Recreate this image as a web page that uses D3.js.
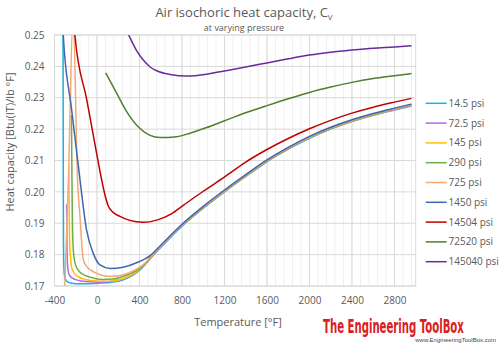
<!DOCTYPE html>
<html><head><meta charset="utf-8">
<script src="https://cdn.jsdelivr.net/npm/d3@7/dist/d3.min.js"></script>
<style>body{margin:0;background:#fff}svg{display:block}text{font-family:"Open Sans",sans-serif}</style>
</head><body>
<svg id="c" width="500" height="346"></svg>
<script>
const seriesNames = ["14.5 psi","72.5 psi","145 psi","290 psi","725 psi","1450 psi","14504 psi","72520 psi","145040 psi"];
const seriesColors = ["#1CB0E8","#B368F0","#FFC000","#6FAE45","#F4A876","#3D67B5","#C00000","#4E7F2E","#6A2A9C"];
const xTicks = [-400,0,400,800,1200,1600,2000,2400,2800];
const yTicks = [0.17,0.18,0.19,0.20,0.21,0.22,0.23,0.24,0.25];

// temperatures [°F] and heat capacities [Btu(IT)/lb °F]
const t145 = [-320,-317,-315,-311,-305,-295,-280,-240,-160,-40,80,185,300,400,500,600,800,1000,1200,1400,1600,1800,2000,2200,2400,2600,2800,2960];
const cp145 = [0.262,0.200,0.182,0.1755,0.1732,0.1720,0.1714,0.1709,0.1707,0.1708,0.1710,0.1714,0.1728,0.1750,0.1787,0.1823,0.1891,0.1948,0.2000,0.2049,0.2096,0.2136,0.2171,0.2200,0.2224,0.2244,0.2261,0.2274];

const t725 = [-286,-283,-279,-270,-250,-207,-129,-40,28,120,200,300,400,500,600,800,1000,1200,1400,1600,1800,2000,2200,2400,2600,2800,2960];
const cp725 = [0.196,0.185,0.178,0.1745,0.1730,0.1721,0.1715,0.1713,0.1712,0.1714,0.1718,0.1729,0.1751,0.1788,0.1824,0.1892,0.1949,0.2001,0.2050,0.2097,0.2137,0.2172,0.2201,0.2225,0.2245,0.2262,0.2275];

const t1450 = [-265,-262,-258,-250,-235,-191,-97,0,59,150,250,350,400,500,600,800,1000,1200,1400,1600,1800,2000,2200,2400,2600,2800,2960];
const cp1450 = [0.208,0.195,0.185,0.179,0.1755,0.1732,0.1720,0.1716,0.1715,0.1716,0.1724,0.1740,0.1752,0.1789,0.1825,0.1893,0.1950,0.2002,0.2051,0.2098,0.2138,0.2173,0.2202,0.2226,0.2246,0.2263,0.2276];

const t2900 = [-240,-236,-231,-222,-200,-160,-100,-30,60,150,250,350,450,500,600,800,1000,1200,1400,1600,1800,2000,2200,2400,2600,2800,2960];
const cp2900 = [0.2245,0.205,0.190,0.181,0.1765,0.1744,0.1732,0.1725,0.1721,0.1722,0.1731,0.1745,0.1768,0.1790,0.1826,0.1894,0.1951,0.2003,0.2052,0.2099,0.2139,0.2174,0.2203,0.2227,0.2247,0.2264,0.2277];

const t7250 = [-305,-270,-225,-182,-160,-129,-100,-66,0,59,150,250,350,450,500,600,800,1000,1200,1400,1600,1800,2000,2200,2400,2600,2800,2960];
const cp7250 = [0.1685,0.2028,0.2560,0.2028,0.1920,0.1785,0.1763,0.1752,0.1740,0.1733,0.1731,0.1736,0.1750,0.1772,0.1791,0.1827,0.1895,0.1952,0.2004,0.2053,0.2100,0.2140,0.2175,0.2204,0.2228,0.2248,0.2265,0.2278];

const t14500 = [-325,-317,-240,-160,-98,-35,28,122,247,373,500,600,800,1000,1200,1400,1600,1800,2000,2200,2400,2600,2800,2960];
const cp14500 = [0.2555,0.2496,0.2266,0.2038,0.1878,0.1804,0.1767,0.1756,0.1760,0.1774,0.1797,0.1830,0.1897,0.1954,0.2006,0.2055,0.2102,0.2142,0.2177,0.2206,0.2230,0.2250,0.2267,0.2280];

const t145k = [-215,-207,-97,-3,40,75,106,150,216,300,436,562,700,812,1000,1195,1400,1600,1800,2000,2200,2400,2600,2800,2960];
const cp145k = [0.2535,0.2496,0.2295,0.2122,0.2045,0.1990,0.1955,0.1935,0.1922,0.1910,0.1903,0.1910,0.1930,0.1957,0.2002,0.2046,0.2095,0.2135,0.2170,0.2201,0.2228,0.2251,0.2270,0.2286,0.2298];

const t725k = [82,185,279,405,499,593,750,875,1032,1195,1400,1600,1800,2000,2200,2400,2600,2800,2960];
const cp725k = [0.2379,0.2315,0.2256,0.2202,0.2180,0.2173,0.2176,0.2187,0.2205,0.2226,0.2252,0.2275,0.2297,0.2317,0.2334,0.2349,0.2361,0.2370,0.2377];

const t1450k = [250,304,370,436,500,562,690,844,1032,1160,1400,1600,1800,2000,2200,2400,2600,2800,2960];
const cp1450k = [0.2535,0.2496,0.2452,0.2420,0.2398,0.2386,0.2374,0.2369,0.2375,0.2383,0.2398,0.2411,0.2424,0.2436,0.2445,0.2452,0.2458,0.2462,0.2466];

const temps = [t145,t725,t1450,t2900,t7250,t14500,t145k,t725k,t1450k];
const cps = [cp145,cp725,cp1450,cp2900,cp7250,cp14500,cp145k,cp725k,cp1450k];

const svg = d3.select("#c");
const L=54.5,R=415.7,T=35,B=286;
const x = d3.scaleLinear().domain([-400,3000]).range([L,R]);
const y = d3.scaleLinear().domain([0.17,0.25]).range([B,T]);
const grey="#595959";

// minor grid
svg.append("g").selectAll("line").data(d3.range(-400,3001,80)).join("line")
  .attr("x1",d=>x(d)).attr("x2",d=>x(d)).attr("y1",T).attr("y2",B)
  .attr("stroke","#f0f0f0").attr("stroke-width",1);
// major grid
svg.append("g").selectAll("line").data(d3.range(-400,3001,400)).join("line")
  .attr("x1",d=>x(d)).attr("x2",d=>x(d)).attr("y1",T).attr("y2",B)
  .attr("stroke","#d9d9d9").attr("stroke-width",1);
svg.append("g").selectAll("line").data(yTicks).join("line")
  .attr("x1",L).attr("x2",R).attr("y1",d=>y(d)).attr("y2",d=>y(d))
  .attr("stroke","#d9d9d9").attr("stroke-width",1);
svg.append("rect").attr("x",L).attr("y",T).attr("width",R-L).attr("height",B-T)
  .attr("fill","none").attr("stroke","#d9d9d9");

const xa = svg.append("g").attr("transform",`translate(0,${B})`)
  .call(d3.axisBottom(x).tickValues(xTicks).tickSize(0).tickPadding(11).tickFormat(d=>String(d)));
xa.select(".domain").remove();
xa.selectAll("text").attr("fill",grey).style("font-size","10px").style("font-family","Open Sans");
const ya = svg.append("g").attr("transform",`translate(${L},0)`)
  .call(d3.axisLeft(y).tickValues(yTicks).tickSize(0).tickPadding(10).tickFormat(d3.format(".2f")));
ya.select(".domain").remove();
ya.selectAll("text").attr("fill",grey).style("font-size","10px").style("font-family","Open Sans");

svg.append("clipPath").attr("id","clp").append("rect").attr("x",L).attr("y",T).attr("width",R-L).attr("height",B-T);
const line = d3.line().x(d=>x(d[0])).y(d=>y(d[1])).curve(d3.curveMonotoneX);
const g = svg.append("g").attr("clip-path","url(#clp)");
temps.forEach((ts,i)=>{
  g.append("path").datum(ts.map((t,j)=>[t,cps[i][j]]))
   .attr("d",line).attr("fill","none").attr("stroke",seriesColors[i]).attr("stroke-width",1.5);
});

// legend
const lg = svg.append("g");
seriesNames.forEach((n,i)=>{
  const yy = 103.3 + i*19.8;
  lg.append("line").attr("x1",425.7).attr("x2",446.7).attr("y1",yy).attr("y2",yy)
    .attr("stroke",seriesColors[i]).attr("stroke-width",1.5);
  lg.append("text").attr("x",448.5).attr("y",yy).attr("dy","0.35em").text(n)
    .attr("fill",grey).style("font-size","10px");
});

// titles
const tt = svg.append("text").attr("x",244).attr("y",17).attr("text-anchor","middle").attr("fill",grey).style("font-size","13px");
tt.append("tspan").text("Air isochoric heat capacity, C");
tt.append("tspan").text("V").style("font-size","8px").attr("dy","3");
svg.append("text").attr("x",244).attr("y",31).attr("text-anchor","middle").attr("fill",grey).style("font-size","9px").text("at varying pressure");
svg.append("text").attr("x",238).attr("y",326).attr("text-anchor","middle").attr("fill",grey).style("font-size","11px").text("Temperature [°F]");
svg.append("text").attr("transform","translate(14,142) rotate(-90)").attr("text-anchor","middle").attr("fill",grey).style("font-size","11px").text("Heat capacity [Btu(IT)/lb °F]");

// watermark
const wm = svg.append("text").attr("x",0).attr("y",0)
  .attr("fill","#D9201E").style("font-family","'Liberation Sans Narrow','DejaVu Sans Condensed',sans-serif").style("font-weight","bold").style("font-size","20px").text("The Engineering ToolBox");
const wl = wm.node().getComputedTextLength();
wm.attr("transform",`translate(323,333) scale(${141/wl},1)`);
svg.append("text").attr("x",496).attr("y",342).attr("text-anchor","end").attr("fill","#444").style("font-size","6px").style("font-family","Liberation Sans").text("www.EngineeringToolBox.com");
</script>
</body></html>
